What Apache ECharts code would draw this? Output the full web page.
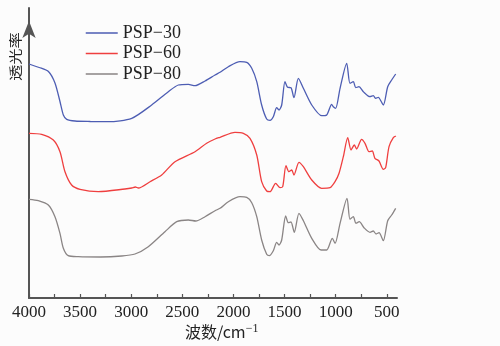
<!DOCTYPE html>
<html><head><meta charset="utf-8">
<script src="https://cdn.jsdelivr.net/npm/echarts@6/dist/echarts.min.js"></script>
<style>html,body{margin:0;padding:0;background:#fcfcfc;}#c{width:500px;height:346px;}</style>
</head><body><div id="c"></div>
<script>
var seriesNames = ['PSP\u221230', 'PSP\u221260', 'PSP\u221280'];
var xTicks = [500, 750, 1000, 1250, 1500, 1750, 2000, 2250, 2500, 2750, 3000, 3250, 3500, 3750, 4000];
var xLabels = [500, 1000, 1500, 2000, 2500, 3000, 3500, 4000];

var wn30 = [4000,3900,3810,3746,3697,3664,3631,3550,3400,3224,2995,2800,2637,2539,2441,2376,2278,2180,2131,2050,1936,1870,1821,1772,1724,1675,1642,1610,1577,1554,1528,1496,1470,1437,1408,1365,1316,1234,1137,1088,1039,1023,1000,957,892,860,827,804,772,729,664,632,608,583,534,491,452,413];
var t30 = [234,230.5,226.5,215,196.5,183,178.7,177,176.5,176.3,179.7,193,206.3,213,213.7,212.3,217,223,225.7,231.3,236.3,235.7,229.7,216.3,193,179,177.7,181.3,190.3,188,193,216.3,210.7,210.3,200.3,219.7,209.7,193,182.3,183,193.7,191.3,189.7,209.7,234.7,214.7,216.3,210.3,211.3,206.3,201.3,202.3,199.7,200.7,193,211.3,218,224];

var wn60 = [4000,3876,3762,3697,3648,3583,3501,3322,3061,2995,2960,2930,2816,2702,2572,2376,2262,2180,2131,1985,1903,1838,1772,1724,1675,1642,1587,1544,1518,1486,1457,1430,1408,1359,1316,1234,1137,1055,1006,967,925,882,850,818,795,746,713,674,642,616,576,534,511,478,436,410];
var t60 = [164.7,163.7,158,146.3,126.3,113,108.7,106.3,109,110,111,110,116.3,123,136.3,146.3,154.7,159,160.7,165.7,164.7,159.7,143,116.3,107,106.3,114.7,110.3,111.3,132.3,126.3,128,123,135.7,131.3,118,109.7,110.3,116.3,124.7,141.3,160.3,148,153,149,158.7,154.7,146.3,147,139.7,137,128.7,130.3,151.3,160.3,162];

var wn80 = [4000,3909,3811,3746,3697,3664,3616,3518,3300,3093,2963,2833,2670,2555,2441,2369,2278,2180,2131,2050,1936,1870,1821,1772,1724,1675,1649,1610,1577,1554,1528,1489,1463,1437,1405,1359,1316,1234,1143,1088,1033,1006,957,889,860,827,802,769,723,664,632,605,576,534,491,452,413];
var t80 = [98.7,97.3,93,81.3,64.7,49.7,42.3,41.3,41,42,44,51.3,66.3,76.3,78,77,81.3,87.3,89.7,96.3,101.3,100.7,95.3,81.3,58,43.7,42.3,47.3,55.7,53,58,82,75.3,76,65.7,84.7,77.3,59.7,48,48,59.7,54.7,74.7,99.7,78.7,81.3,74.7,76.3,70.3,65.7,67,64,65.3,57.3,77.3,83,89.7];

function zip(a, b) { return a.map(function (v, i) { return [v, b[i]]; }); }

var colors = ['#4d5db3', '#ef3f3f', '#8a8585'];
var serif = 'Liberation Serif';
var chart = echarts.init(document.getElementById('c'));
var sets = [[wn30, t30], [wn60, t60], [wn80, t80]];
chart.setOption({
  backgroundColor: '#fcfcfc',
  animation: false,
  grid: { left: 29, right: 103, top: 8, bottom: 48 },
  legend: {
    orient: 'vertical', left: 80, top: 19,
    itemWidth: 32, itemHeight: 14, itemGap: 2.5,
    data: seriesNames,
    itemStyle: { opacity: 0 },
    lineStyle: { width: 1.5 },
    textStyle: { fontFamily: serif, fontSize: 18, color: '#222' }
  },
  xAxis: {
    type: 'value', min: 400, max: 4000, inverse: true,
    axisLine: { lineStyle: { color: '#555', width: 2 } },
    axisTick: { inside: true, length: 4, customValues: xTicks, lineStyle: { color: '#555', width: 1.2 } },
    axisLabel: { customValues: xLabels, formatter: function (v) { return String(v); }, fontFamily: serif, fontSize: 17, color: '#222', margin: 6 },
    splitLine: { show: false }
  },
  yAxis: {
    type: 'value', min: 0, max: 290,
    axisLine: { show: true, symbol: ['none', 'arrow'], symbolSize: [10, 17], symbolOffset: [0, -13], lineStyle: { color: '#555', width: 2 } },
    axisTick: { show: false }, axisLabel: { show: false }, splitLine: { show: false }
  },
  graphic: [
    { type: 'text', x: 9, y: 81, rotation: Math.PI / 2, scaleX: 1.25,
      style: { text: '透光率', font: '13px "Noto Sans CJK SC"', fill: '#222', textAlign: 'left', textVerticalAlign: 'top' } },
    { type: 'text', x: 185, y: 332,
      style: { text: '{a|波数/cm}{b|\u22121}', textVerticalAlign: 'middle',
        rich: { a: { fontFamily: '"Noto Sans CJK SC", serif', fontSize: 16, fill: '#222' },
                b: { fontFamily: serif, fontSize: 12, fill: '#222', verticalAlign: 'top', padding: [0, 0, 6, 0] } } } }
  ],
  series: sets.map(function (s, i) {
    return { name: seriesNames[i], type: 'line', data: zip(s[0], s[1]), symbol: 'none', showSymbol: false,
      smooth: 0.25, lineStyle: { color: colors[i], width: 1.3 }, itemStyle: { color: colors[i] } };
  })
});
</script></body></html>
